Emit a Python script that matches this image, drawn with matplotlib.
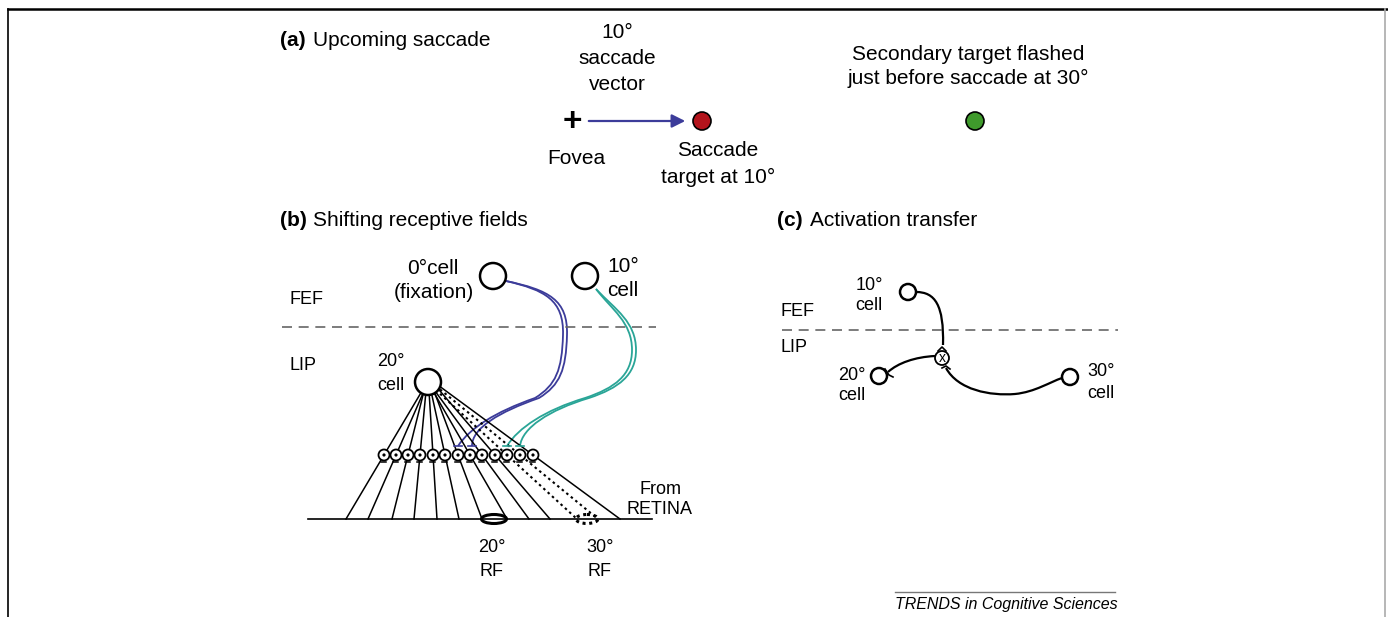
import numpy as np
import matplotlib.pyplot as plt
from matplotlib.patches import Circle, Ellipse, PathPatch
from matplotlib.path import Path

plt.rcParams['font.family'] = ['Liberation Sans', 'DejaVu Sans']

# node positions (pixel space of the original figure)
fef_b = (493, 276)       # 0 deg cell (fixation)
fef10_b = (585, 276)     # 10 deg cell
lip20_b = (428, 382)     # 20 deg cell
syn_x = [384, 396, 408, 420, 433, 445, 458, 470, 482, 495, 507, 520, 533]
syn_y = 455
retina_y = 519
retina_x = [346, 368, 392, 414, 437, 459, 482, 507, 529, 550, 577, 598, 620]
dotted = [False] * 10 + [True, True, False]
rf20 = (494, 519)
rf30 = (587, 519)

c10 = (908, 292)
c20 = (879, 376)
c30 = (1070, 377)
cx = (942, 358)

BLUE = '#3c3c9a'
TEAL = '#2aa597'
RED = '#b3141c'
GREEN = '#3f9a2c'

fig = plt.figure(figsize=(13.88, 6.17), dpi=100)
ax = fig.add_axes([0, 0, 1, 1])
ax.set_xlim(0, 1388)
ax.set_ylim(617, 0)
ax.axis('off')

# frame
ax.plot([8, 1388], [9, 9], color='black', lw=1.8)
ax.plot([8.5, 8.5], [9, 617], color='black', lw=1.2)
ax.plot([1385, 1385], [9, 617], color='#aaaaaa', lw=1.2)

FS = 15
FS2 = 13

def txt(x, y, s, size=FS, **kw):
    kw.setdefault('ha', 'center')
    ax.text(x, y, s, fontsize=size, va='center', **kw)

def curve(pts, color, lw=1.3, ls='-'):
    codes = [Path.MOVETO] + [Path.CURVE4] * (len(pts) - 1)
    ax.add_patch(PathPatch(Path(pts, codes), fill=False, edgecolor=color, lw=lw, ls=ls))

# ---------- (a) ----------
ax.text(280, 40, '(a)', fontsize=FS, fontweight='bold', va='center', ha='left')
ax.text(313, 40, 'Upcoming saccade', fontsize=FS, va='center', ha='left')
txt(617, 33, '10°')
txt(617, 59, 'saccade')
txt(617, 85, 'vector')
ax.text(572, 123, '+', fontsize=24, fontweight='bold', ha='center', va='center')
ax.annotate('', xy=(688, 121), xytext=(586, 121),
            arrowprops=dict(arrowstyle='-|>', color=BLUE, lw=1.6, mutation_scale=20))
ax.add_patch(Circle((702, 121), 9, facecolor=RED, edgecolor='black', lw=1.2))
ax.add_patch(Circle((975, 121), 9, facecolor=GREEN, edgecolor='black', lw=1.2))
txt(576, 158, 'Fovea')
txt(718, 151, 'Saccade')
txt(718, 177, 'target at 10°')
txt(968, 54, 'Secondary target flashed')
txt(968, 78, 'just before saccade at 30°')

# ---------- (b) ----------
ax.text(280, 220, '(b)', fontsize=FS, fontweight='bold', va='center', ha='left')
ax.text(313, 220, 'Shifting receptive fields', fontsize=FS, va='center', ha='left')
txt(433, 268, '0°cell')
txt(434, 292, '(fixation)')
ax.text(607, 266, '10°', fontsize=FS, va='center', ha='left')
ax.text(607, 290, 'cell', fontsize=FS, va='center', ha='left')
ax.text(290, 300, 'FEF', fontsize=FS2, va='center', ha='left')
ax.text(290, 365, 'LIP', fontsize=FS2, va='center', ha='left')
ax.text(405, 361, '20°', fontsize=FS2, va='center', ha='right')
ax.text(405, 385, 'cell', fontsize=FS2, va='center', ha='right')
ax.plot([282, 656], [327, 327], color='#666666', lw=1.2, dashes=(6, 4))

# fan of inputs to the 20 deg cell: straight lines retina -> synapse -> cell
for xs, xe, dot in zip(syn_x, retina_x, dotted):
    x_top = xs + (xs - xe) * (syn_y - lip20_b[1]) / (retina_y - syn_y)
    ls = (0, (1.2, 1.6)) if dot else '-'
    lw = 1.5 if dot else 1.1
    ax.plot([x_top, xe], [lip20_b[1], retina_y], color='black', lw=lw, ls=ls)
ax.plot([308, 652], [retina_y, retina_y], color='black', lw=1.2)
ax.add_patch(Ellipse(rf20, 25, 9, fill=False, edgecolor='black', lw=2.2))
ax.add_patch(Ellipse(rf30, 22, 9, fill=False, edgecolor='black', lw=2.2, ls=(0, (1, 1.2))))

for xs in syn_x:
    ax.add_patch(Circle((xs, syn_y), 5.5, facecolor='white', edgecolor='black', lw=1.3, zorder=3))
    ax.add_patch(Circle((xs, syn_y), 1.6, facecolor='black', edgecolor='none', zorder=4))
    ax.plot([xs - 2.5, xs + 2.5], [syn_y + 7, syn_y + 7], color='black', lw=1.1)

# FEF projections
for dx, end in [(0, 458), (4, 472)]:
    curve([(506, 281), (545 + dx, 290), (564 + dx, 300), (563 + dx, 335),
           (562 + dx, 370), (556 + dx, 385), (535 + dx, 398),
           (495 + dx, 412), (470 + dx / 2, 428), (end, 446)], BLUE)
    ax.plot([end - 4, end + 4], [446, 446], color=BLUE, lw=1.2)
for dx, end in [(0, 507), (4, 520)]:
    curve([(596, 289), (612 + dx, 310), (632 + dx, 322), (632 + dx, 350),
           (632 + dx, 375), (615 + dx, 388), (585 + dx, 398),
           (545 + dx, 410), (518 + dx, 428), (end, 446)], TEAL)
    ax.plot([end - 4, end + 4], [446, 446], color=TEAL, lw=1.2)

for c in (fef_b, fef10_b, lip20_b):
    ax.add_patch(Circle(c, 13, facecolor='white', edgecolor='black', lw=1.8, zorder=3))

txt(661, 489, 'From', size=FS2)
ax.text(627, 509, 'RETINA', fontsize=FS2, va='center', ha='left')
txt(492, 548, '20°', size=FS2)
txt(492, 572, 'RF', size=FS2)
txt(600, 548, '30°', size=FS2)
txt(600, 572, 'RF', size=FS2)

# ---------- (c) ----------
ax.text(777, 220, '(c)', fontsize=FS, fontweight='bold', va='center', ha='left')
ax.text(810, 220, 'Activation transfer', fontsize=FS, va='center', ha='left')
ax.text(781, 312, 'FEF', fontsize=FS2, va='center', ha='left')
ax.text(781, 348, 'LIP', fontsize=FS2, va='center', ha='left')
ax.plot([782, 1118], [330, 330], color='#666666', lw=1.2, dashes=(6, 4))

curve([(916, 292), (935, 292), (944, 305), (943, 345)], 'black', lw=1.6)
ax.plot([938, 942, 946], [351, 347, 351], color='black', lw=1.2)
curve([(935, 356), (915, 357), (898, 363), (888, 372)], 'black', lw=1.6)
ax.plot([885, 889, 893], [369, 375, 377], color='black', lw=1.2)
curve([(946, 368), (958, 390), (990, 396), (1015, 394),
       (1035, 392), (1050, 382), (1062, 378)], 'black', lw=1.6)
ax.plot([942, 946, 950], [368, 366, 369], color='black', lw=1.2)

ax.add_patch(Circle(cx, 7, facecolor='white', edgecolor='black', lw=1.3, zorder=3))
ax.text(cx[0], cx[1] + 0.5, 'x', fontsize=10, ha='center', va='center', zorder=4)
for c in (c10, c20, c30):
    ax.add_patch(Circle(c, 8, facecolor='white', edgecolor='black', lw=1.8, zorder=3))

ax.text(883, 285, '10°', fontsize=FS2, va='center', ha='right')
ax.text(883, 305, 'cell', fontsize=FS2, va='center', ha='right')
ax.text(866, 375, '20°', fontsize=FS2, va='center', ha='right')
ax.text(866, 395, 'cell', fontsize=FS2, va='center', ha='right')
ax.text(1087, 372, '30°', fontsize=FS2, va='center', ha='left')
ax.text(1087, 393, 'cell', fontsize=FS2, va='center', ha='left')

# journal tag
ax.plot([895, 1115], [592, 592], color='#777777', lw=1.0)
ax.text(895, 604, 'TRENDS in Cognitive Sciences', fontsize=11.5, style='italic',
        ha='left', va='center')

fig.savefig('out.png', dpi=100)
